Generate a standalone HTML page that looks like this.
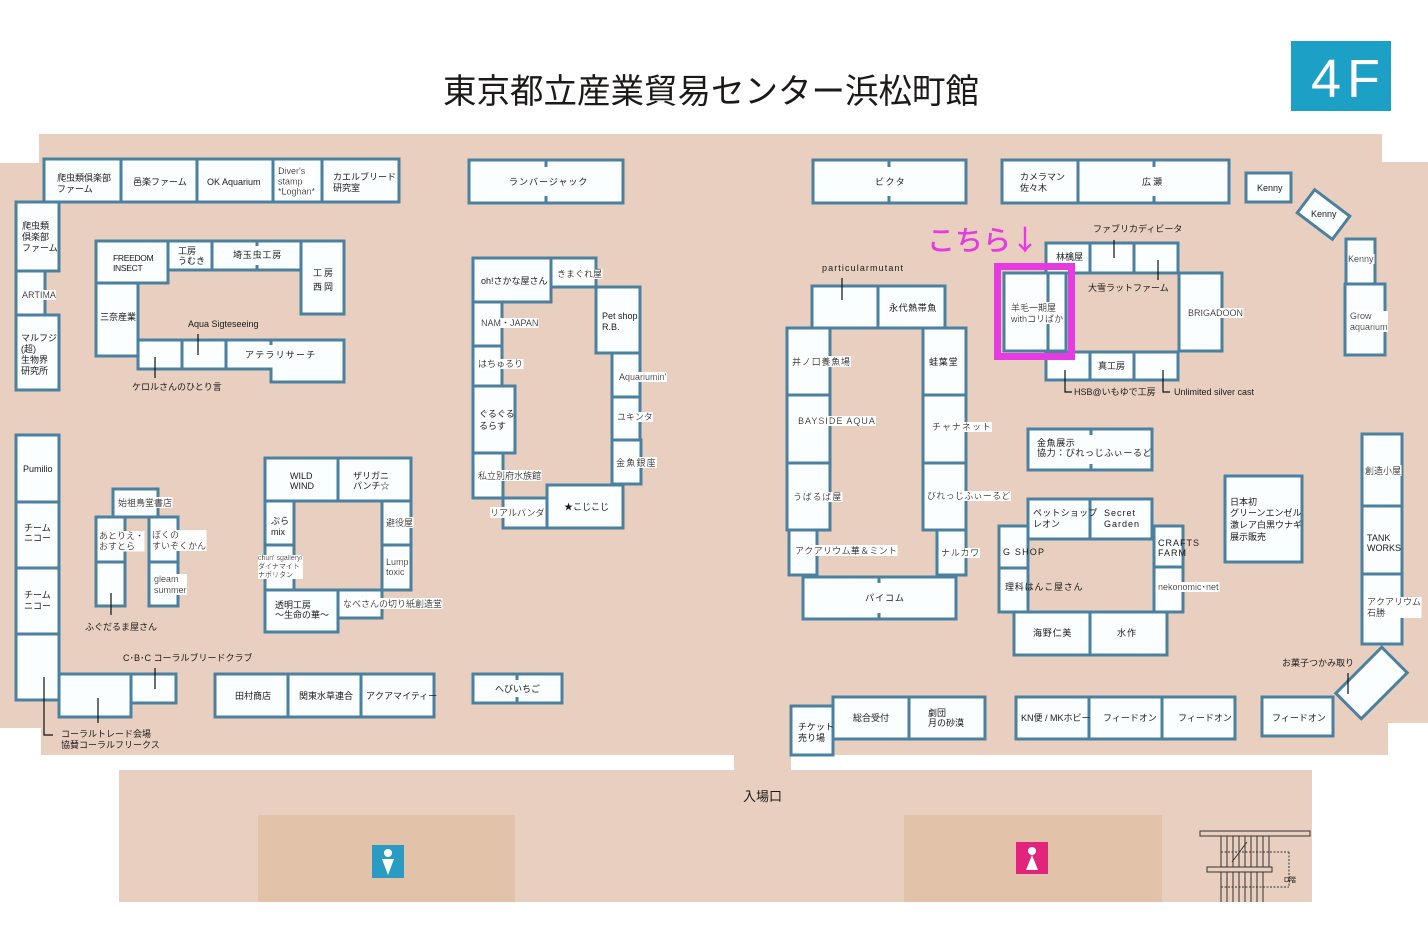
<!DOCTYPE html>
<html><head><meta charset="utf-8">
<style>
html,body{margin:0;padding:0;background:#fff;}
svg{display:block;}
.t{font-family:"Liberation Sans","Noto Sans CJK JP",sans-serif;font-size:9px;fill:#1a1a1a;}
.b rect,.b path{fill:#fbfeff;stroke:#4b809f;stroke-width:3;}
.tk line{stroke:#4b809f;stroke-width:3;}
.ld line,.ld polyline{stroke:#111;stroke-width:1.2;fill:none;}
</style></head>
<body>
<svg width="1428" height="946" viewBox="0 0 1428 946" xmlns="http://www.w3.org/2000/svg">
<defs>
<filter id="wb" x="0" y="0" width="1" height="1"><feFlood flood-color="#ffffff"/><feComposite in="SourceGraphic" operator="over"/></filter>
</defs>

<!-- title -->
<text x="443" y="103" font-family="'Noto Sans CJK JP',sans-serif" font-size="34" fill="#1c1a18" textLength="536" lengthAdjust="spacingAndGlyphs">東京都立産業貿易センター浜松町館</text>
<rect x="1291" y="41" width="100" height="70" fill="#1da0c6"/>
<text x="1311" y="97" font-family="'Liberation Sans',sans-serif" font-size="54" fill="#fff" letter-spacing="6">4F</text>

<!-- floor -->
<path d="M39,134 H1382 V162 H1428 V723 H1388 V755 H791 V771 H734 V755 H41 V728 H0 V163 H39 Z" fill="#e9cfbf"/>
<rect x="119" y="770" width="1193" height="132" fill="#e9cfbf"/>
<rect x="258" y="815" width="257" height="87" fill="#e2c2a9"/>
<rect x="904" y="815" width="258" height="87" fill="#e2c2a9"/>

<!-- restroom icons -->
<rect x="372" y="845" width="32" height="33" fill="#2a9cc4"/>
<circle cx="388" cy="853" r="4" fill="#fff"/>
<polygon points="382,859 394,859 388,875" fill="#fff"/>
<rect x="1016" y="842" width="32" height="32" fill="#e2247d"/>
<circle cx="1032" cy="851" r="4" fill="#fff"/>
<polygon points="1032,855 1026,870 1038,870" fill="#fff"/>

<!-- stairs -->
<g stroke="#333" stroke-width="1" fill="none">
<rect x="1200" y="831" width="110" height="5"/>
<rect x="1207" y="867" width="65" height="5"/>
<line x1="1221" y1="836" x2="1221" y2="867"/><line x1="1227" y1="836" x2="1227" y2="867"/><line x1="1233" y1="836" x2="1233" y2="867"/><line x1="1239" y1="836" x2="1239" y2="867"/><line x1="1245" y1="836" x2="1245" y2="867"/><line x1="1251" y1="836" x2="1251" y2="867"/><line x1="1257" y1="836" x2="1257" y2="867"/><line x1="1263" y1="836" x2="1263" y2="867"/><line x1="1269" y1="836" x2="1269" y2="867"/>
<line x1="1221" y1="872" x2="1221" y2="902"/><line x1="1227" y1="872" x2="1227" y2="902"/><line x1="1233" y1="872" x2="1233" y2="902"/><line x1="1239" y1="872" x2="1239" y2="902"/><line x1="1245" y1="872" x2="1245" y2="902"/><line x1="1251" y1="872" x2="1251" y2="902"/><line x1="1257" y1="872" x2="1257" y2="902"/><line x1="1263" y1="872" x2="1263" y2="902"/>
<line x1="1221" y1="852" x2="1289" y2="852" stroke-dasharray="2,1.5"/>
<line x1="1221" y1="887" x2="1289" y2="887" stroke-dasharray="2,1.5"/>
<line x1="1289" y1="852" x2="1289" y2="887" stroke-dasharray="2,1.5"/>
<line x1="1232" y1="862" x2="1247" y2="842"/>
</g>
<text x="1284" y="882" class="t" style="font-size:7px">D階</text>
<text x="743" y="801" class="t" style="font-size:13px">入場口</text>

<!-- booths -->
<g class="b">
<rect x="44" y="159" width="77" height="43"/>
<rect x="121" y="159" width="76" height="43"/>
<rect x="197" y="159" width="76" height="43"/>
<rect x="273" y="159" width="49" height="43"/>
<rect x="322" y="159" width="77" height="43"/>
<rect x="16" y="202" width="43" height="69"/>
<rect x="16" y="271" width="29" height="44"/>
<rect x="16" y="315" width="43" height="75"/>
<rect x="16" y="435" width="43" height="67"/>
<rect x="16" y="502" width="43" height="66"/>
<rect x="16" y="568" width="43" height="66"/>
<rect x="16" y="634" width="43" height="66"/>
<rect x="59" y="674" width="72" height="43"/>
<rect x="131" y="674" width="45" height="29"/>
<rect x="96" y="241" width="72" height="42"/>
<rect x="168" y="241" width="44" height="29"/>
<rect x="212" y="241" width="89" height="29"/>
<rect x="301" y="241" width="43" height="73"/>
<rect x="96" y="283" width="42" height="73"/>
<rect x="138" y="340" width="44" height="29"/>
<rect x="182" y="340" width="44" height="29"/>
<path d="M226,340 H344 V382 H271 V369 H226 Z"/>
<rect x="113" y="489" width="45" height="28"/>
<rect x="96" y="517" width="29" height="45"/>
<rect x="149" y="517" width="29" height="45"/>
<rect x="96" y="562" width="29" height="44"/>
<rect x="149" y="562" width="29" height="44"/>
<rect x="265" y="458" width="73" height="43"/>
<rect x="338" y="458" width="73" height="43"/>
<rect x="265" y="501" width="29" height="44"/>
<rect x="265" y="545" width="29" height="45"/>
<rect x="382" y="501" width="29" height="44"/>
<rect x="382" y="545" width="29" height="45"/>
<rect x="265" y="590" width="73" height="42"/>
<rect x="338" y="590" width="44" height="28"/>
<rect x="215" y="674" width="73" height="43"/>
<rect x="288" y="674" width="73" height="43"/>
<rect x="361" y="674" width="73" height="43"/>
<rect x="469" y="160" width="154" height="43"/>
<rect x="473" y="258" width="78" height="44"/>
<rect x="551" y="258" width="45" height="29"/>
<rect x="596" y="287" width="44" height="66"/>
<rect x="473" y="302" width="29" height="44"/>
<rect x="473" y="346" width="29" height="40"/>
<rect x="473" y="386" width="42" height="67"/>
<rect x="612" y="353" width="28" height="44"/>
<rect x="612" y="397" width="28" height="43"/>
<rect x="612" y="440" width="29" height="44"/>
<rect x="473" y="453" width="30" height="45"/>
<rect x="503" y="498" width="44" height="30"/>
<rect x="547" y="485" width="76" height="43"/>
<rect x="473" y="674" width="89" height="29"/>
<rect x="813" y="160" width="153" height="43"/>
<rect x="1002" y="160" width="76" height="43"/>
<rect x="1078" y="160" width="151" height="43"/>
<rect x="1246" y="173" width="45" height="29"/>
<rect x="-22" y="-14.5" width="44" height="29" transform="translate(1323.5,214.5) rotate(37)"/>
<rect x="1346" y="239" width="29" height="45"/>
<rect x="1345" y="284" width="40" height="71"/>
<rect x="812" y="286" width="66" height="42"/>
<rect x="878" y="286" width="67" height="42"/>
<rect x="787" y="328" width="43" height="67"/>
<rect x="787" y="395" width="43" height="68"/>
<rect x="787" y="463" width="43" height="67"/>
<rect x="789" y="530" width="28" height="45"/>
<rect x="923" y="328" width="43" height="67"/>
<rect x="923" y="395" width="43" height="68"/>
<rect x="923" y="463" width="43" height="67"/>
<rect x="937" y="530" width="29" height="45"/>
<rect x="803" y="577" width="153" height="42"/>
<rect x="1046" y="243" width="44" height="30"/>
<rect x="1090" y="243" width="44" height="30"/>
<rect x="1134" y="243" width="44" height="30"/>
<rect x="1004" y="273" width="44" height="78"/>
<rect x="1048" y="273" width="18" height="78"/>
<rect x="1179" y="273" width="43" height="78"/>
<rect x="1046" y="352" width="44" height="28"/>
<rect x="1090" y="352" width="44" height="28"/>
<rect x="1134" y="352" width="44" height="28"/>
<rect x="1028" y="429" width="124" height="41"/>
<rect x="1028" y="499" width="62" height="40"/>
<rect x="1090" y="499" width="62" height="40"/>
<rect x="999" y="526" width="29" height="42"/>
<rect x="999" y="568" width="29" height="44"/>
<rect x="1154" y="526" width="29" height="41"/>
<rect x="1154" y="567" width="29" height="45"/>
<rect x="1014" y="612" width="76" height="43"/>
<rect x="1090" y="612" width="77" height="43"/>
<rect x="1225" y="476" width="77" height="86"/>
<rect x="1362" y="434" width="40" height="72"/>
<rect x="1362" y="506" width="40" height="68"/>
<rect x="1362" y="574" width="40" height="70"/>
<rect x="-18" y="-32.5" width="36" height="65" transform="translate(1371.5,683) rotate(45)"/>
<rect x="791" y="706" width="42" height="49"/>
<rect x="833" y="697" width="76" height="42"/>
<rect x="909" y="697" width="76" height="42"/>
<rect x="1016" y="697" width="73" height="42"/>
<rect x="1089" y="697" width="73" height="42"/>
<rect x="1162" y="697" width="73" height="42"/>
<rect x="1262" y="697" width="71" height="39"/>
</g>

<!-- ticks -->
<g class="tk">
<line x1="546" y1="160" x2="546" y2="167"/><line x1="546" y1="196" x2="546" y2="203"/>
<line x1="889" y1="160" x2="889" y2="167"/><line x1="889" y1="196" x2="889" y2="203"/>
<line x1="1154" y1="160" x2="1154" y2="167"/><line x1="1154" y1="196" x2="1154" y2="203"/>
<line x1="517" y1="674" x2="517" y2="680"/><line x1="517" y1="697" x2="517" y2="703"/>
<line x1="1091" y1="429" x2="1091" y2="435"/><line x1="1091" y1="464" x2="1091" y2="470"/>
<line x1="879" y1="577" x2="879" y2="583"/><line x1="879" y1="613" x2="879" y2="619"/>
<line x1="257" y1="241" x2="257" y2="246"/><line x1="257" y1="265" x2="257" y2="270"/>
<line x1="271" y1="340" x2="271" y2="345"/>
</g>

<!-- magenta highlight -->
<rect x="997.5" y="266.5" width="74" height="90" fill="none" stroke="#e63be0" stroke-width="7"/>
<text x="927" y="250" font-family="'Noto Sans CJK JP',sans-serif" font-size="28" font-weight="500" fill="#e63be0">こちら↓</text>

<!-- leaders -->
<g class="ld">
<line x1="198" y1="334" x2="198" y2="355"/>
<line x1="155" y1="357" x2="155" y2="378"/>
<line x1="111" y1="593" x2="111" y2="615"/>
<line x1="155" y1="668" x2="155" y2="689"/>
<polyline points="44,677 44,735 53,735"/>
<line x1="98" y1="698" x2="98" y2="723"/>
<line x1="1114" y1="240" x2="1114" y2="258"/>
<line x1="1158" y1="260" x2="1158" y2="280"/>
<polyline points="1065,370 1065,392 1072,392"/>
<polyline points="1163,370 1163,392 1170,392"/>
<line x1="842" y1="278" x2="842" y2="300"/>
<line x1="1348" y1="673" x2="1348" y2="694"/>
</g>

<!-- labels -->
<g class="t">
<text x="57" y="181">爬虫類倶楽部</text><text x="57" y="192">ファーム</text>
<text x="133" y="185">邑楽ファーム</text>
<text x="207" y="185">OK Aquarium</text>
<text x="278" y="174" filter="url(#wb)">Diver's<tspan x="278" dy="10.5">stamp</tspan><tspan x="278" dy="10">*Loghan*</tspan></text>
<text x="333" y="180">カエルブリード</text><text x="333" y="191">研究室</text>
<text x="22" y="229">爬虫類</text><text x="22" y="240">倶楽部</text><text x="22" y="251">ファーム</text>
<text x="22" y="298" filter="url(#wb)">ARTIMA</text>
<text x="21" y="341">マルフジ</text><text x="21" y="352">(超)</text><text x="21" y="363">生物界</text><text x="21" y="374">研究所</text>
<text x="113" y="261" style="font-size:8.5px" letter-spacing="-0.3">FREEDOM</text><text x="113" y="271" style="font-size:8.5px" letter-spacing="-0.3">INSECT</text>
<text x="178" y="254">工房</text><text x="178" y="264">うむき</text>
<text x="233" y="258" letter-spacing="0.8">埼玉虫工房</text>
<text x="313" y="276" letter-spacing="2">工房</text><text x="313" y="290" letter-spacing="2">西岡</text>
<text x="100" y="320">三奈産業</text>
<text x="188" y="327">Aqua Sigteseeing</text>
<text x="245" y="358" letter-spacing="1.2">アテラリサーチ</text>
<text x="132" y="390">ケロルさんのひとり言</text>

<text x="23" y="472">Pumilio</text>
<text x="24" y="531">チーム</text><text x="24" y="541">ニコー</text>
<text x="24" y="598">チーム</text><text x="24" y="609">ニコー</text>
<text x="118" y="506" filter="url(#wb)">始祖鳥堂書店</text>
<text x="99" y="539" filter="url(#wb)">あとりえ・<tspan x="99" dy="10.5">おすとら</tspan></text>
<text x="152" y="538" filter="url(#wb)">ぼくの<tspan x="152" dy="11">すいぞくかん</tspan></text>
<text x="154" y="582" filter="url(#wb)">gleam<tspan x="154" dy="11">summer</tspan></text>
<text x="85" y="630">ふぐだるま屋さん</text>
<text x="123" y="661">C･B･C コーラルブリードクラブ</text>
<text x="61" y="737">コーラルトレード会場</text><text x="61" y="748">協賛コーラルフリークス</text>
<text x="290" y="479">WILD</text><text x="290" y="489">WIND</text>
<text x="353" y="479">ザリガニ</text><text x="353" y="489">パンチ☆</text>
<text x="271" y="524">ぷら</text><text x="271" y="535">mix</text>
<text x="258" y="560" style="font-size:7px" filter="url(#wb)">chun' sgallery/<tspan x="258" dy="8.5">ダイナマイト</tspan><tspan x="258" dy="8.5">ナポリタン</tspan></text>
<text x="386" y="526" filter="url(#wb)">避役屋</text>
<text x="386" y="565" filter="url(#wb)">Lump<tspan x="386" dy="10">toxic</tspan></text>
<text x="275" y="608">透明工房</text><text x="275" y="618">〜生命の華〜</text>
<text x="343" y="607" filter="url(#wb)">なべさんの切り紙創造堂</text>
<text x="235" y="699">田村商店</text>
<text x="299" y="699">関東水草連合</text>
<text x="366" y="699">アクアマイティー</text>

<text x="509" y="185" letter-spacing="1">ランバージャック</text>
<text x="481" y="284">oh!さかな屋さん</text>
<text x="557" y="277" filter="url(#wb)">きまぐれ屋</text>
<text x="481" y="326" filter="url(#wb)">NAM・JAPAN</text>
<text x="478" y="367" filter="url(#wb)">はちゅるり</text>
<text x="479" y="417">ぐるぐる</text><text x="479" y="429">るらす</text>
<text x="602" y="319">Pet shop</text><text x="602" y="330">R.B.</text>
<text x="619" y="380" filter="url(#wb)">Aquariumin'</text>
<text x="617" y="420" filter="url(#wb)">ユキンタ</text>
<text x="616" y="466" letter-spacing="1.2" filter="url(#wb)">金魚銀座</text>
<text x="478" y="479" filter="url(#wb)">私立別府水族館</text>
<text x="490" y="516" filter="url(#wb)">リアルパンダ</text>
<text x="564" y="510">★こじこじ</text>
<text x="495" y="692">へびいちご</text>

<text x="875" y="185" letter-spacing="1.5">ビクタ</text>
<text x="1020" y="180">カメラマン</text><text x="1020" y="191">佐々木</text>
<text x="1142" y="185" letter-spacing="2">広瀬</text>
<text x="1257" y="191">Kenny</text>
<text x="1311" y="217">Kenny</text>
<text x="1348" y="262" filter="url(#wb)">Kenny</text>
<text x="1350" y="319" filter="url(#wb)">Grow<tspan x="1350" dy="11">aquarium</tspan></text>
<text x="1093" y="232">ファブリカディビータ</text>
<text x="1056" y="260">林檎屋</text>
<text x="1088" y="291">大雪ラットファーム</text>
<text x="1011" y="311" filter="url(#wb)">羊毛一期屋<tspan x="1011" dy="11">withコリぱか</tspan></text>
<text x="1188" y="316" filter="url(#wb)">BRIGADOON</text>
<text x="1098" y="369">真工房</text>
<text x="1074" y="395">HSB@いもゆで工房</text>
<text x="1174" y="395">Unlimited silver cast</text>
<text x="822" y="271" letter-spacing="1.1">particularmutant</text>
<text x="889" y="311" letter-spacing="0.6">永代熱帯魚</text>
<text x="792" y="365" letter-spacing="0.8" filter="url(#wb)">井ノ口養魚場</text>
<text x="929" y="365" letter-spacing="0.8">蛙葉堂</text>
<text x="798" y="424" letter-spacing="1" filter="url(#wb)">BAYSIDE AQUA</text>
<text x="932" y="430" letter-spacing="1" filter="url(#wb)">チャナネット</text>
<text x="793" y="500" letter-spacing="0.8" filter="url(#wb)">うばるば屋</text>
<text x="927" y="499" letter-spacing="0.3" filter="url(#wb)">びれっじふぃーるど</text>
<text x="795" y="554" letter-spacing="0.3" filter="url(#wb)">アクアリウム華＆ミント</text>
<text x="941" y="556" letter-spacing="0.8" filter="url(#wb)">ナルカワ</text>
<text x="865" y="601" letter-spacing="1">パイコム</text>
<text x="1037" y="446" letter-spacing="0.6">金魚展示</text><text x="1037" y="456" letter-spacing="0.6">協力：びれっじふぃーるど</text>
<text x="1033" y="516" letter-spacing="0.2">ペットショップ</text><text x="1033" y="527">レオン</text>
<text x="1104" y="516" letter-spacing="1">Secret</text><text x="1104" y="527" letter-spacing="1">Garden</text>
<text x="1003" y="555" letter-spacing="1.2">G SHOP</text>
<text x="1005" y="590" letter-spacing="0.8">理科はんこ屋さん</text>
<text x="1158" y="546" letter-spacing="1">CRAFTS</text><text x="1158" y="556" letter-spacing="1">FARM</text>
<text x="1158" y="590" filter="url(#wb)">nekonomic･net</text>
<text x="1033" y="636" letter-spacing="0.8">海野仁美</text>
<text x="1117" y="636" letter-spacing="1">水作</text>
<text x="1230" y="505">日本初</text><text x="1230" y="516">グリーンエンゼル</text><text x="1230" y="528">激レア白黒ウナギ</text><text x="1230" y="540">展示販売</text>
<text x="1365" y="474" filter="url(#wb)">創造小屋</text>
<text x="1367" y="541">TANK</text><text x="1367" y="551">WORKS</text>
<text x="1367" y="605" filter="url(#wb)">アクアリウム<tspan x="1367" dy="11">石勝</tspan></text>
<text x="1282" y="666">お菓子つかみ取り</text>
<text x="798" y="730">チケット</text><text x="798" y="741">売り場</text>
<text x="853" y="721">総合受付</text>
<text x="928" y="716">劇団</text><text x="928" y="726">月の砂漠</text>
<text x="1021" y="721">KN便 / MKホビー</text>
<text x="1103" y="721">フィードオン</text>
<text x="1178" y="721">フィードオン</text>
<text x="1272" y="721">フィードオン</text>
</g>
</svg>
</body></html>
